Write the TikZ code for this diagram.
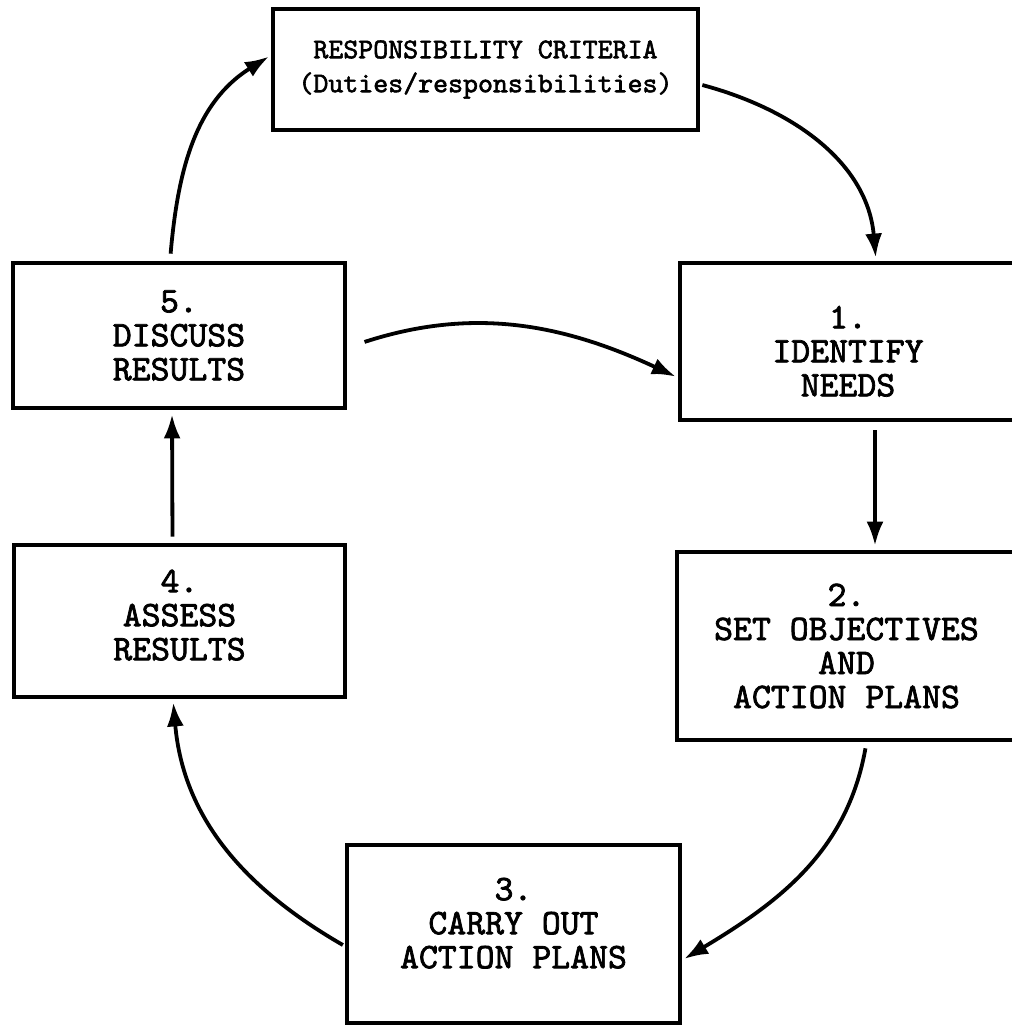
\documentclass[tikz,border=0pt]{standalone}
\usepackage{fontspec}
\newfontfamily\twfont{lmmono10-regular.otf}[FakeBold=2]
\usetikzlibrary{arrows.meta}
\newcommand\pushdown[1]{\rule{0pt}{#1}}
\newcommand\pushup[1]{\rule[-#1]{0pt}{#1}}
\tikzset{
  stagebox/.style={draw, line width=4.8pt, align=center, inner sep=0pt,
    font=\twfont\fontsize{36}{34}\selectfont},
  topbox/.style={stagebox, font=\twfont\fontsize{28.5}{34}\selectfont},
  flow/.style={line width=3.8pt, -{Latex[length=24pt,width=17pt]}},
}
\begin{document}
\begin{tikzpicture}[x=1pt,y=-1pt]
\useasboundingbox (0,0) rectangle (1012,1029);
\clip (0,0) rectangle (1012,1029);
\fill[white] (0,0) rectangle (1012,1029);

\node[topbox, minimum width=425pt, minimum height=121pt] (top) at (485.5,69.5)
  {RESPONSIBILITY CRITERIA\\(Duties/responsibilities)};
\node[stagebox, minimum width=336pt, minimum height=157pt] (n1) at (848,341.5)
  {\pushdown{42pt}1.\\IDENTIFY\\NEEDS};
\node[stagebox, minimum width=339pt, minimum height=188pt] (n2) at (846.5,646)
  {2.\\SET OBJECTIVES\\AND\\ACTION PLANS};
\node[stagebox, minimum width=333pt, minimum height=178pt] (n3) at (513.5,934)
  {3.\\CARRY OUT\\ACTION PLANS\pushup{22pt}};
\node[stagebox, minimum width=331pt, minimum height=152pt] (n4) at (179.5,621)
  {4.\\ASSESS\\RESULTS\pushup{12pt}};
\node[stagebox, minimum width=332pt, minimum height=145pt] (n5) at (179,335.5)
  {5.\\DISCUSS\\RESULTS};

\draw[flow, shorten <=7pt, shorten >=2pt]
  ([xshift=-9pt]n5.north) to[out=85,in=212] ([yshift=14pt]top.west);
\draw[flow, shorten <=2pt, shorten >=3pt]
  ([yshift=-15pt]top.east) to[out=-15,in=95] ([xshift=28pt]n1.north);
\draw[flow, shorten <=18pt, shorten >=2pt]
  ([yshift=-12pt]n5.east) to[out=18,in=155] ([yshift=-36pt]n1.west);
\draw[flow, shorten <=8pt, shorten >=4pt]
  ([xshift=27pt]n1.south) -- ([xshift=28.5pt]n2.north);
\draw[flow, shorten <=6pt, shorten >=2pt]
  ([xshift=20pt]n2.south) to[out=-100,in=31] ([yshift=-26pt]n3.east);
\draw[flow, shorten <=2pt, shorten >=3pt]
  ([yshift=-12pt]n3.west) to[out=150,in=-85] ([xshift=-6.5pt]n4.south);
\draw[flow, shorten <=6pt, shorten >=4pt]
  ([xshift=-7pt]n4.north) -- ([xshift=-7pt]n5.south);
\end{tikzpicture}
\end{document}
